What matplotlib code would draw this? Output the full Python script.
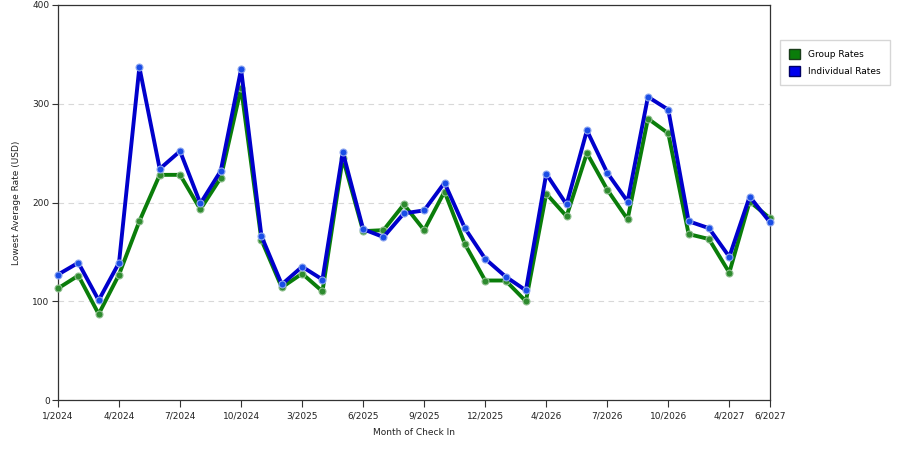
import matplotlib
matplotlib.use("Agg")
import matplotlib.pyplot as plt
from matplotlib.patches import Patch

# months of check in (only some of them are labelled on the axis)
months = ['1/2024', '2/2024', '3/2024', '4/2024', '5/2024', '6/2024',
          '7/2024', '8/2024', '9/2024', '10/2024', '11/2024', '2/2025',
          '3/2025', '4/2025', '5/2025', '6/2025', '7/2025', '8/2025',
          '9/2025', '10/2025', '11/2025', '12/2025', '1/2026', '3/2026',
          '4/2026', '5/2026', '6/2026', '7/2026', '8/2026', '9/2026',
          '10/2026', '11/2026', '1/2027', '4/2027', '5/2027', '6/2027']
labelled = ['1/2024', '4/2024', '7/2024', '10/2024', '3/2025', '6/2025',
            '9/2025', '12/2025', '4/2026', '7/2026', '10/2026', '4/2027', '6/2027']

group_rates = [113, 126, 87, 127, 181, 228, 228, 193, 225, 316, 162, 114,
               128, 110, 245, 171, 172, 198, 172, 211, 158, 121, 121, 100,
               209, 186, 250, 213, 183, 285, 270, 168, 163, 129, 201, 184]
indiv_rates = [127, 139, 101, 139, 337, 234, 252, 199, 232, 335, 166, 117,
               135, 122, 251, 173, 165, 189, 192, 220, 174, 143, 125, 111,
               229, 198, 273, 230, 201, 307, 294, 181, 174, 145, 206, 180]

green = '#0a7d0a'
blue = '#0000cc'

fig = plt.figure(figsize=(9, 4.5), dpi=100)
ax = fig.add_axes([58 / 900, 50 / 450, 712 / 900, 395 / 450])

x = list(range(len(months)))
ax.plot(x, group_rates, color=green, lw=2.8, marker='o', ms=5,
        markerfacecolor='#2e8b2e', markeredgecolor='#8fbf8f', mew=0.8,
        zorder=3, clip_on=False)
ax.plot(x, indiv_rates, color=blue, lw=2.8, marker='o', ms=5,
        markerfacecolor='#1a4de6', markeredgecolor='#8fa8ef', mew=0.8,
        zorder=4, clip_on=False)

ax.set_xlim(0, len(months) - 1)
ax.set_ylim(0, 400)
ax.set_yticks([0, 100, 200, 300, 400])
ax.set_xticks([months.index(m) for m in labelled])
ax.set_xticklabels(labelled)
ax.tick_params(axis='both', labelsize=6.5, length=5, width=0.8,
               color='#333333', labelcolor='#222222', direction='out')
ax.tick_params(axis='y', length=4, pad=2)
ax.tick_params(axis='x', pad=3)

ax.yaxis.grid(True, linestyle=(0, (5, 4)), color='#d8d8d8', lw=0.8)
ax.set_axisbelow(True)
for s in ax.spines.values():
    s.set_color('#333333')
    s.set_linewidth(0.9)

ax.set_xlabel('Month of Check In', fontsize=6.5, color='#222222', labelpad=6)
ax.set_ylabel('Lowest Average Rate (USD)', fontsize=6.5, color='#222222', labelpad=8)

handles = [Patch(facecolor=green, edgecolor='#1a3d1a', label='Group Rates'),
           Patch(facecolor='#0000ee', edgecolor='#000066', label='Individual Rates')]
fig.legend(handles=handles, loc='upper left', bbox_to_anchor=(780 / 900, 1 - 40 / 450),
           fontsize=6.5, frameon=True, fancybox=False, edgecolor='#cccccc',
           handlelength=1.2, handleheight=1.3, handletextpad=0.9,
           labelspacing=0.8, borderpad=1.0, borderaxespad=0)

fig.savefig('out.png', dpi=100)
